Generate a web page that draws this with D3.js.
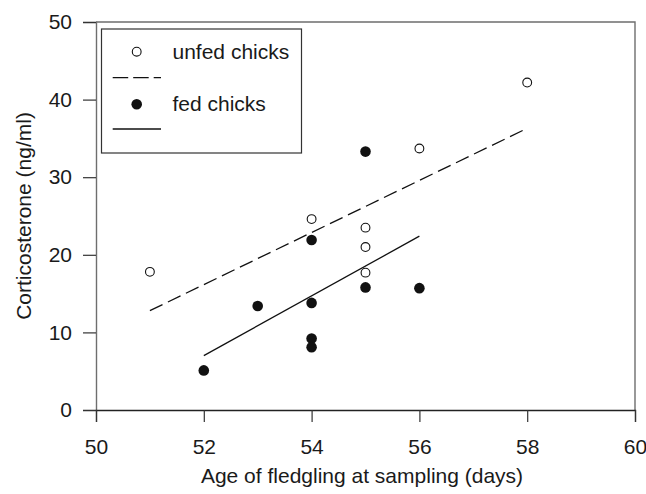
<!DOCTYPE html>
<html lang="en">
<head>
    <meta charset="UTF-8">
    <title>Corticosterone vs age</title>
    <style>
        body { margin: 0; background: #fff; }
        svg text { font-family: "Liberation Sans", Arial, sans-serif; fill: #1a1a1a; }
    </style>
</head>
<body>
<script src='https://d3js.org/d3.v7.min.js' type='text/javascript'></script>
<script>
    // unfed chicks (open circles)
    var unfedAge = [51, 54, 55, 55, 55, 56, 58];
    var unfedCort = [17.8, 24.6, 23.5, 21.0, 17.7, 33.7, 42.2];
    // fed chicks (filled circles)
    var fedAge = [52, 53, 54, 54, 54, 54, 55, 55, 56];
    var fedCort = [5.1, 13.4, 21.9, 13.8, 9.2, 8.1, 33.3, 15.8, 15.7];
    // regression line ends
    var unfedFitAge = [51, 58];
    var unfedFitCort = [12.8, 36.3];
    var fedFitAge = [52, 56];
    var fedFitCort = [7.0, 22.4];
    var xTicks = [50, 52, 54, 56, 58, 60];
    var yTicks = [0, 10, 20, 30, 40, 50];

    const width = 646;
    const height = 494;
    const pLeft = 96, pRight = 635, pTop = 22, pBottom = 410;

    const svg = d3.select("body")
        .append("svg")
        .attr("width", width)
        .attr("height", height);

    var x = d3.scaleLinear().domain([50, 60]).range([pLeft, pRight]);
    var y = d3.scaleLinear().domain([0, 50]).range([pBottom, pTop]);

    // frame top + right
    svg.append("path")
        .attr("d", "M" + pLeft + "," + pTop + "H" + pRight + "V" + pBottom)
        .attr("fill", "none")
        .attr("stroke", "#6e6e6e")
        .attr("stroke-width", 1.4);

    // y axis
    var yAxis = svg.append("g")
        .attr("transform", "translate(" + pLeft + ",0)")
        .call(d3.axisLeft(y).tickValues(yTicks).tickSize(13).tickSizeOuter(13).tickPadding(11));
    yAxis.select(".domain").attr("stroke", "#6e6e6e").attr("stroke-width", 1.4);
    yAxis.selectAll(".tick line").attr("stroke", "#333").attr("stroke-width", 1.2);
    yAxis.selectAll("text").attr("font-size", 21).attr("font-family", null).attr("fill", "#1a1a1a");

    // x axis
    var xAxis = svg.append("g")
        .attr("transform", "translate(0," + pBottom + ")")
        .call(d3.axisBottom(x).tickValues(xTicks).tickSize(12).tickSizeOuter(12));
    xAxis.select(".domain").attr("stroke", "#222").attr("stroke-width", 1.3);
    xAxis.selectAll(".tick line").attr("stroke", "#333").attr("stroke-width", 1.2);
    xAxis.selectAll("text")
        .attr("font-size", 21).attr("font-family", null).attr("fill", "#1a1a1a")
        .attr("y", 44).attr("dy", null);

    // axis titles
    svg.append("text")
        .attr("x", 362).attr("y", 483)
        .attr("text-anchor", "middle")
        .attr("font-size", 21)
        .text("Age of fledgling at sampling (days)");
    svg.append("text")
        .attr("transform", "translate(31,216) rotate(-90)")
        .attr("text-anchor", "middle")
        .attr("font-size", 21)
        .text("Corticosterone (ng/ml)");

    var line = d3.line()
        .x(function (d) { return x(d[0]); })
        .y(function (d) { return y(d[1]); });

    // regression lines
    svg.append("path")
        .attr("d", line(d3.zip(unfedFitAge, unfedFitCort)))
        .attr("fill", "none").attr("stroke", "#111").attr("stroke-width", 1.3)
        .attr("stroke-dasharray", "14,6");
    svg.append("path")
        .attr("d", line(d3.zip(fedFitAge, fedFitCort)))
        .attr("fill", "none").attr("stroke", "#111").attr("stroke-width", 1.3);

    // points
    svg.selectAll(".unfed")
        .data(d3.zip(unfedAge, unfedCort))
        .enter()
        .append("circle")
        .attr("class", "unfed")
        .attr("cx", function (d) { return x(d[0]); })
        .attr("cy", function (d) { return y(d[1]); })
        .attr("r", 4.4)
        .attr("fill", "#fff").attr("stroke", "#111").attr("stroke-width", 1.1);
    svg.selectAll(".fed")
        .data(d3.zip(fedAge, fedCort))
        .enter()
        .append("circle")
        .attr("class", "fed")
        .attr("cx", function (d) { return x(d[0]); })
        .attr("cy", function (d) { return y(d[1]); })
        .attr("r", 5.3)
        .attr("fill", "#111");

    // legend
    var lg = svg.append("g");
    lg.append("rect")
        .attr("x", 101.5).attr("y", 29).attr("width", 200).attr("height", 124)
        .attr("fill", "#fff").attr("stroke", "#333").attr("stroke-width", 1.2);
    lg.append("circle").attr("cx", 136.7).attr("cy", 51.7).attr("r", 4.4)
        .attr("fill", "#fff").attr("stroke", "#111").attr("stroke-width", 1.1);
    lg.append("text").attr("x", 172.5).attr("y", 59).attr("font-size", 21).text("unfed chicks");
    lg.append("line").attr("x1", 112.7).attr("x2", 161).attr("y1", 77.7).attr("y2", 77.7)
        .attr("stroke", "#111").attr("stroke-width", 1.3).attr("stroke-dasharray", "15.5,5");
    lg.append("circle").attr("cx", 136.7).attr("cy", 104.3).attr("r", 5.3).attr("fill", "#111");
    lg.append("text").attr("x", 172.5).attr("y", 111).attr("font-size", 21).text("fed chicks");
    lg.append("line").attr("x1", 112.7).attr("x2", 161).attr("y1", 129).attr("y2", 129)
        .attr("stroke", "#111").attr("stroke-width", 1.3);
</script>
</body>
</html>
